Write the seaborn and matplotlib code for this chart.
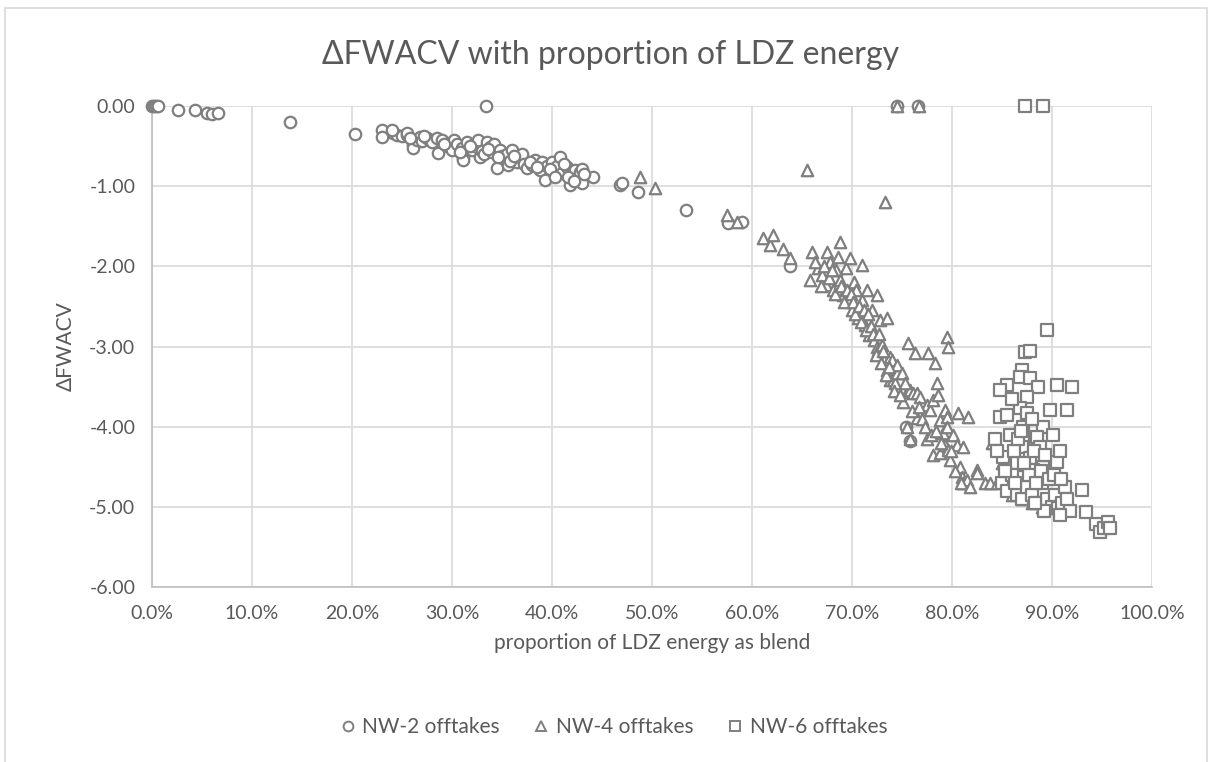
import numpy as np
import pandas as pd
import matplotlib
matplotlib.use("Agg")
import matplotlib.pyplot as plt
from matplotlib.lines import Line2D
from matplotlib.patches import Rectangle
from matplotlib.ticker import PercentFormatter, FormatStrFormatter, MultipleLocator
import seaborn as sns

# 数据 (x 为百分比, y 为 ΔFWACV)
nw2_x = [0.0, 0.2, 0.4, 0.6, 2.6, 4.3, 5.5, 6.0, 6.6, 13.8, 20.3, 33.4,
         23.0, 23.0, 24.1, 24.5, 25.0, 25.5, 25.5, 26.1, 26.1, 26.5,
         26.8, 27.0, 27.5, 27.8, 28.0, 28.5, 28.6, 29.0, 29.5, 29.8,
         30.0, 30.2, 30.5, 31.0, 31.1, 31.1, 31.5, 32.0, 32.2, 32.5,
         32.6, 32.8, 33.0, 33.2, 33.5, 33.8, 34.0, 34.2, 34.5, 34.8,
         35.0, 35.5, 35.6, 36.0, 36.5, 36.8, 37.0, 37.2, 37.5, 38.0,
         38.3, 38.8, 39.0, 39.3, 39.5, 40.0, 40.1, 40.5, 40.8, 41.0,
         41.5, 41.8, 42.0, 42.3, 42.6, 42.8, 43.0, 43.0, 44.1,
         46.8, 47.0, 48.6, 53.4, 57.6, 59.0, 63.8, 74.5, 76.6, 75.4, 75.8,
         24.0, 25.8, 27.2, 29.2, 30.8, 31.8, 33.6, 34.6, 35.8, 36.2,
         37.8, 38.5, 39.8, 41.2, 41.6, 42.2, 43.2, 40.3]
nw2_y = [0.0, 0.0, 0.0, 0.0, -0.05, -0.05, -0.09, -0.10, -0.09, -0.20, -0.35, 0.0,
         -0.30, -0.39, -0.34, -0.36, -0.38, -0.36, -0.34, -0.49, -0.52, -0.42,
         -0.39, -0.44, -0.40, -0.42, -0.45, -0.40, -0.59, -0.42, -0.50, -0.46,
         -0.55, -0.43, -0.48, -0.52, -0.65, -0.67, -0.45, -0.55, -0.48, -0.51,
         -0.42, -0.64, -0.56, -0.60, -0.45, -0.51, -0.58, -0.48, -0.77, -0.55,
         -0.62, -0.60, -0.74, -0.55, -0.70, -0.64, -0.60, -0.72, -0.77, -0.73,
         -0.67, -0.80, -0.70, -0.92, -0.75, -0.70, -0.80, -0.75, -0.64, -0.83,
         -0.76, -0.99, -0.85, -0.80, -0.90, -0.82, -0.96, -0.78, -0.89,
         -0.98, -0.96, -1.07, -1.30, -1.46, -1.45, -2.00, 0.0, 0.0, -4.01, -4.18,
         -0.30, -0.40, -0.37, -0.47, -0.58, -0.50, -0.54, -0.64, -0.68, -0.62,
         -0.70, -0.76, -0.78, -0.72, -0.88, -0.93, -0.85, -0.88]

nw4_x = [48.8, 50.3, 57.5, 58.5, 61.1, 61.8, 62.1, 63.1, 63.8, 65.5, 73.3, 74.5, 76.7,
         65.8, 66.0, 66.6, 67.0, 67.4, 67.5, 67.8, 68.1, 68.4, 68.6,
         68.8, 68.8, 69.1, 69.4, 69.6, 69.8, 70.0, 70.2, 70.4, 70.6,
         71.0, 71.0, 71.3, 71.5, 71.7, 72.0, 72.2, 72.5, 72.5, 72.6,
         72.8, 73.0, 73.2, 73.5, 73.5, 73.8, 73.8, 74.0, 74.1, 74.3,
         74.5, 74.5, 75.0, 75.1, 75.5, 75.5, 75.6, 75.8, 75.8, 76.1,
         76.3, 76.5, 76.5, 76.8, 77.5, 77.5, 77.6, 77.8, 78.1, 78.1,
         78.3, 78.5, 78.6, 78.8, 78.8, 79.1, 79.3, 79.3, 79.5, 79.5,
         79.5, 79.6, 79.6, 79.8, 80.1, 80.5, 80.6, 80.8, 81.0, 81.1,
         81.1, 81.5, 81.6, 82.5, 82.5, 83.3, 83.8, 84.0, 84.5, 84.6,
         85.0, 85.5, 86.0, 87.0, 88.0, 89.0, 89.5, 90.0,
         66.3, 66.9, 67.2, 67.7, 68.0, 68.3, 68.9, 69.2, 69.5, 69.9,
         70.1, 70.3, 70.7, 70.9, 71.2, 71.4, 71.6, 71.9, 72.1, 72.4,
         72.7, 72.9, 73.1, 73.4, 73.7, 74.2, 74.8, 75.3, 76.0, 76.7,
         77.0, 77.3, 77.9, 78.4, 78.9, 79.9, 80.3, 80.9, 81.8]
nw4_y = [-0.89, -1.02, -1.36, -1.45, -1.65, -1.73, -1.61, -1.78, -1.90, -0.80, -1.20, 0.0, 0.0,
         -2.17, -1.82, -2.02, -2.11, -2.23, -1.82, -1.95, -2.29, -2.04, -1.88,
         -1.70, -2.17, -2.36, -2.02, -2.42, -1.90, -2.54, -2.19, -2.29, -2.64,
         -1.98, -2.42, -2.73, -2.29, -2.86, -2.54, -2.92, -2.36, -3.00, -3.04,
         -2.67, -2.98, -3.17, -2.64, -3.29, -3.42, -3.13, -3.17, -3.42, -3.45,
         -3.33, -3.23, -3.33, -3.69, -3.57, -4.01, -2.96, -4.16, -3.54, -3.58,
         -3.08, -3.89, -3.58, -3.63, -3.73, -4.16, -3.08, -3.79, -3.67, -4.35,
         -3.20, -3.45, -3.60, -3.92, -4.33, -4.08, -3.79, -4.23, -2.88, -3.88,
         -4.00, -3.00, -4.29, -4.41, -4.10, -4.23, -3.83, -4.50, -4.63, -4.25,
         -4.70, -4.66, -3.88, -4.54, -4.58, -4.70, -4.70, -4.20, -4.70, -4.25,
         -4.45, -4.60, -4.85, -4.90, -4.95, -5.00, -4.95, -5.02,
         -1.95, -2.25, -2.00, -2.15, -2.05, -2.35, -2.25, -2.45, -2.30, -2.35,
         -2.45, -2.60, -2.50, -2.70, -2.55, -2.80, -2.60, -2.75, -2.85, -3.10,
         -2.85, -3.20, -3.05, -3.35, -3.25, -3.55, -3.60, -3.45, -3.80, -3.75,
         -3.90, -4.00, -4.10, -4.05, -4.20, -4.30, -4.55, -4.70, -4.75]

nw6_x = [87.3, 89.1, 89.5, 87.3, 87.8, 87.0, 85.5, 84.8, 86.8, 87.8,
         88.6, 90.5, 92.0, 87.5, 91.5, 89.8, 84.8, 85.5, 86.8, 87.5,
         87.1, 89.1, 90.1, 88.5, 87.1, 87.0, 88.8, 85.1, 87.8, 86.5,
         90.5, 89.1, 88.1, 87.1, 84.3, 84.5, 85.0, 85.5, 86.0, 86.5,
         87.0, 87.5, 88.0, 88.5, 89.0, 89.5, 90.0, 90.3, 90.6, 91.0,
         91.3, 91.8, 90.8, 93.0, 93.4, 94.4, 94.8, 95.2, 95.6, 95.8,
         85.8, 86.2, 86.6, 87.2, 87.7, 88.2, 88.4, 88.9, 89.3, 89.7,
         90.2, 90.8, 86.3, 85.3, 89.2, 90.9, 91.5, 88.0, 86.0, 88.3, 86.9]
nw6_y = [0.0, 0.0, -2.79, -3.07, -3.05, -3.29, -3.48, -3.54, -3.38, -3.39,
         -3.50, -3.48, -3.50, -3.63, -3.79, -3.79, -3.88, -3.85, -3.77, -3.83,
         -4.00, -4.00, -4.10, -4.13, -4.13, -4.25, -4.25, -4.38, -4.39, -4.45,
         -4.44, -4.50, -4.54, -4.63, -4.15, -4.30, -4.70, -4.80, -4.60, -4.85,
         -4.90, -4.75, -4.85, -4.95, -4.70, -4.90, -5.00, -4.85, -5.02, -4.95,
         -4.75, -5.05, -5.10, -4.79, -5.06, -5.22, -5.31, -5.26, -5.19, -5.26,
         -4.10, -4.30, -4.15, -4.45, -4.60, -4.30, -4.70, -4.55, -4.35, -4.65,
         -4.60, -4.30, -4.70, -4.55, -5.05, -4.65, -4.90, -3.90, -3.65, -4.95, -4.05]

series_names = ['NW-2 offtakes', 'NW-4 offtakes', 'NW-6 offtakes']
series_markers = ['o', '^', 's']

frames = []
for name, xs, ys in zip(series_names, [nw2_x, nw4_x, nw6_x], [nw2_y, nw4_y, nw6_y]):
    frames.append(pd.DataFrame({'blend': np.array(xs) / 100.0, 'dfwacv': ys, 'series': name}))
df = pd.concat(frames, ignore_index=True)

sns.set_theme(style='white')
plt.rcParams['font.family'] = ['Lato', 'DejaVu Sans']

text_col = '#595959'
edge_col = '#7f7f7f'
grid_col = '#d9d9d9'

fig = plt.figure(figsize=(12.13, 7.62), dpi=100)
fig.patch.set_facecolor('white')
# 外框
fig.patches.append(Rectangle((5 / 1213, -0.05), 1202 / 1213, (762 - 8) / 762 + 0.05,
                             transform=fig.transFigure, fill=False,
                             edgecolor=grid_col, linewidth=1.2))

ax = fig.add_axes([152 / 1213, 1 - 587 / 762, 1000 / 1213, 481 / 762])

for i, (name, mk) in enumerate(zip(series_names, series_markers)):
    sns.scatterplot(data=df[df['series'] == name], x='blend', y='dfwacv',
                    marker=mk, s=68, color='white', edgecolor=edge_col,
                    linewidth=1.6, ax=ax, legend=False, clip_on=False, zorder=3 + i)

ax.set_xlim(0, 1)
ax.set_ylim(-6, 0)
ax.xaxis.set_major_locator(MultipleLocator(0.1))
ax.yaxis.set_major_locator(MultipleLocator(1.0))
ax.xaxis.set_major_formatter(PercentFormatter(xmax=1.0, decimals=1))
ax.yaxis.set_major_formatter(FormatStrFormatter('%.2f'))
ax.grid(True, color=grid_col, linewidth=1.2)
ax.set_axisbelow(True)
for side in ['top', 'right']:
    ax.spines[side].set_visible(False)
for side in ['left', 'bottom']:
    ax.spines[side].set_color('#bfbfbf')
    ax.spines[side].set_linewidth(1.2)
ax.tick_params(axis='both', length=0, labelsize=14, colors=text_col)
ax.tick_params(axis='x', pad=13)
ax.tick_params(axis='y', pad=12)

ax.set_xlabel('proportion of LDZ energy as blend', fontsize=15, color=text_col, labelpad=8)
ax.set_ylabel('ΔFWACV', fontsize=15, color=text_col, labelpad=10)

fig.text(0.503, 1 - 55 / 762, 'ΔFWACV with proportion of LDZ energy',
         ha='center', va='center', fontsize=23, color=text_col)

handles = [Line2D([], [], linestyle='none', marker=mk, markersize=7,
                  markerfacecolor='white', markeredgecolor=edge_col, markeredgewidth=1.4)
           for mk in series_markers]
fig.legend(handles, series_names, loc='center', bbox_to_anchor=(0.504, 1 - 727 / 762),
           ncol=3, frameon=False, fontsize=15, labelcolor=text_col,
           handletextpad=0.1, columnspacing=1.4, handlelength=1.2)

plt.savefig('out.png', dpi=100, facecolor='white')
plt.close()
